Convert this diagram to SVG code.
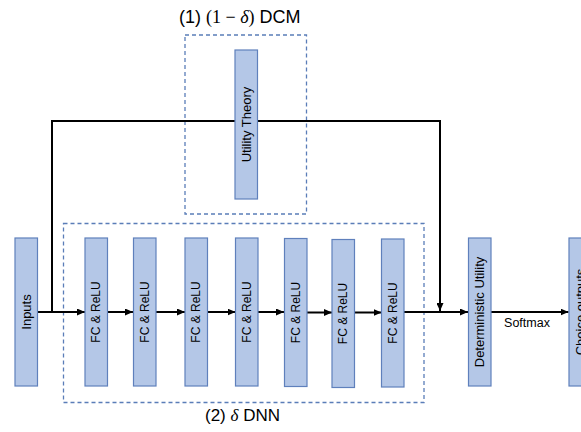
<svg xmlns="http://www.w3.org/2000/svg" width="581" height="432" viewBox="0 0 581 432">
  <style>
    .node { fill: #B4C7E7; stroke: #5F80BC; stroke-width: 1.2; }
    .group { fill: none; stroke: #5A7DB8; stroke-width: 1.3; stroke-dasharray: 4 3; }
    .wire { fill: none; stroke: #000; stroke-width: 2; }
    .lbl { font-family: "Liberation Sans", Arial, sans-serif; font-size: 13px; fill: #000; text-anchor: middle; dominant-baseline: central; }
    .fc { font-size: 12px; }
    .title { font-family: "Liberation Sans", Arial, sans-serif; font-size: 17px; fill: #000; }
    .math { font-family: "Liberation Serif", "DejaVu Serif", serif; }
  </style>
  <defs>
    <marker id="arrow" viewBox="0 0 8 7" refX="8" refY="3.5" markerWidth="8" markerHeight="7" markerUnits="userSpaceOnUse" orient="auto">
      <path d="M0,0 L8,3.5 L0,7 Z" fill="#000"/>
    </marker>
  </defs>
  <rect width="581" height="432" fill="#fff"/>

  <!-- grouping frames -->
  <g id="dcm-frame">
    <rect class="group" x="185" y="35" width="121.5" height="179"/>
    <text class="title" x="179" y="23" style="font-size:18px">(1) <tspan class="math">(1 − </tspan><tspan class="math" font-style="italic">δ</tspan><tspan class="math">)</tspan> DCM</text>
  </g>
  <g id="dnn-frame">
    <rect class="group" x="63.5" y="223.5" width="360.5" height="179"/>
    <text class="title" x="205" y="421">(2) <tspan class="math" font-style="italic">δ</tspan> DNN</text>
  </g>

  <!-- connectors -->
  <g id="connectors">
    <path class="wire" d="M37,312 H85" marker-end="url(#arrow)"/>
    <path class="wire" d="M52,312 V121 H440 V311" marker-end="url(#arrow)"/>
    <path class="wire" d="M108,312 H133" marker-end="url(#arrow)"/>
    <path class="wire" d="M156,312 H185" marker-end="url(#arrow)"/>
    <path class="wire" d="M207,312 H235.5" marker-end="url(#arrow)"/>
    <path class="wire" d="M258,312 H284" marker-end="url(#arrow)"/>
    <path class="wire" d="M307,312.5 H332" marker-end="url(#arrow)"/>
    <path class="wire" d="M354,312.5 H381.5" marker-end="url(#arrow)"/>
    <path class="wire" d="M404,312 H468" marker-end="url(#arrow)"/>
    <path class="wire" d="M491,312 H568.5" marker-end="url(#arrow)"/>
    <text class="lbl" x="527" y="323" style="font-size:12.5px">Softmax</text>
  </g>

  <!-- nodes -->
  <g id="utility-theory">
    <rect class="node" x="235" y="50" width="22.5" height="149"/>
    <text class="lbl" transform="translate(246.2,124.5) rotate(-90)">Utility Theory</text>
  </g>
  <g id="inputs">
    <rect class="node" x="15" y="238" width="22.5" height="148"/>
    <text class="lbl" transform="translate(26.2,312) rotate(-90)">Inputs</text>
  </g>
  <g id="fc1">
    <rect class="node" x="85" y="238" width="22.5" height="148"/>
    <text class="lbl fc" transform="translate(96.2,312) rotate(-90)">FC &amp; ReLU</text>
  </g>
  <g id="fc2">
    <rect class="node" x="133.5" y="238" width="22.5" height="148"/>
    <text class="lbl fc" transform="translate(144.7,312) rotate(-90)">FC &amp; ReLU</text>
  </g>
  <g id="fc3">
    <rect class="node" x="185" y="238" width="22.5" height="148"/>
    <text class="lbl fc" transform="translate(196.2,312) rotate(-90)">FC &amp; ReLU</text>
  </g>
  <g id="fc4">
    <rect class="node" x="235.5" y="238" width="22.5" height="148"/>
    <text class="lbl fc" transform="translate(246.7,312) rotate(-90)">FC &amp; ReLU</text>
  </g>
  <g id="fc5">
    <rect class="node" x="284.5" y="238.5" width="22.5" height="148"/>
    <text class="lbl fc" transform="translate(295.7,312.5) rotate(-90)">FC &amp; ReLU</text>
  </g>
  <g id="fc6">
    <rect class="node" x="332" y="239.5" width="22.5" height="148"/>
    <text class="lbl fc" transform="translate(343.2,313.5) rotate(-90)">FC &amp; ReLU</text>
  </g>
  <g id="fc7">
    <rect class="node" x="381.5" y="239" width="22.5" height="148"/>
    <text class="lbl fc" transform="translate(392.7,313) rotate(-90)">FC &amp; ReLU</text>
  </g>
  <g id="deterministic-utility">
    <rect class="node" x="468.5" y="238" width="22.5" height="148"/>
    <text class="lbl" transform="translate(479.7,312) rotate(-90)">Deterministic Utility</text>
  </g>
  <g id="choice-outputs">
    <rect class="node" x="569" y="238" width="22.5" height="148"/>
    <text class="lbl" transform="translate(580.2,312) rotate(-90)">Choice outputs</text>
  </g>
</svg>
